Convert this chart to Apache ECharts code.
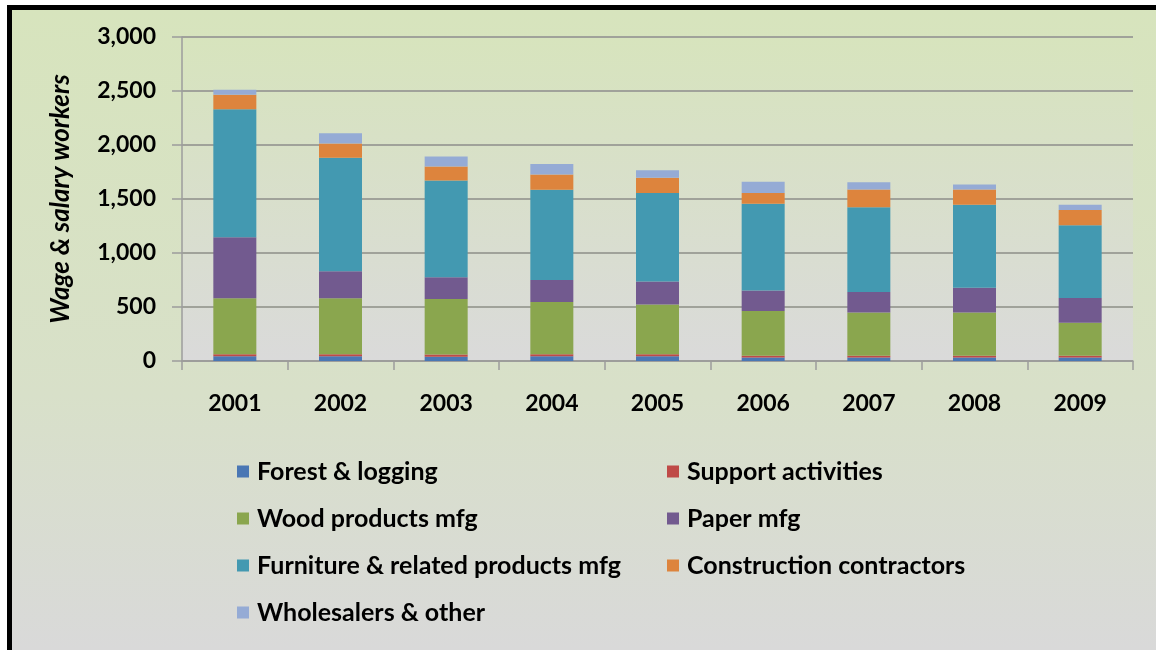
<!DOCTYPE html>
<html>
<head>
<meta charset="utf-8">
<script src="https://cdn.jsdelivr.net/npm/echarts@6/dist/echarts.min.js"></script>
<style>
  html, body { margin: 0; padding: 0; background: #fff; }
  #main {
    position: absolute; left: 7px; top: 5px;
    width: 1149px; height: 645px;
    box-sizing: border-box;
    border-left: 5px solid #000; border-top: 5px solid #000;
  }
</style>
</head>
<body>
<div id="main"></div>
<script>
const years = ['2001', '2002', '2003', '2004', '2005', '2006', '2007', '2008', '2009'];

const forestLogging = [45, 45, 40, 45, 45, 33, 33, 33, 33];
const supportActivities = [18, 18, 20, 18, 18, 16, 16, 16, 16];
const woodProducts = [518, 518, 514, 484, 460, 414, 401, 401, 306];
const paperMfg = [564, 251, 202, 202, 212, 190, 188, 228, 228];
const furnitureMfg = [1187, 1051, 895, 836, 821, 803, 785, 769, 673];
const construction = [133, 130, 130, 143, 140, 99, 166, 142, 142];
const wholesalers = [46, 96, 93, 96, 70, 104, 67, 46, 49];

const seriesNames = [
  'Forest & logging', 'Support activities', 'Wood products mfg', 'Paper mfg',
  'Furniture & related products mfg', 'Construction contractors', 'Wholesalers & other'
];
const seriesData = [forestLogging, supportActivities, woodProducts, paperMfg,
  furnitureMfg, construction, wholesalers];
const colors = ['#4a77b4', '#bf4a47', '#8aa64e', '#725a8f', '#4399b1', '#dd843d', '#95abd5'];

const chart = echarts.init(document.getElementById('main'));

const font = 'Lato, "Open Sans", sans-serif';

const legendCommon = {
  orient: 'vertical',
  top: 449,
  padding: 0,
  itemWidth: 12,
  itemHeight: 12,
  itemGap: 22,
  icon: 'rect',
  textStyle: { fontFamily: font, fontSize: 25, fontWeight: 'bold', color: '#000', lineHeight: 25, padding: [0, 0, 0, 3] }
};

const option = {
  backgroundColor: new echarts.graphic.LinearGradient(0, 0, 0, 1, [
    { offset: 0, color: '#d7e4bd' },
    { offset: 0.6, color: '#d8e0c9' },
    { offset: 1, color: '#d9d9d9' }
  ]),
  color: colors,
  animation: false,
  legend: [
    Object.assign({}, legendCommon, {
      left: 225,
      data: [seriesNames[0], seriesNames[2], seriesNames[4], seriesNames[6]]
    }),
    Object.assign({}, legendCommon, {
      left: 655,
      data: [seriesNames[1], seriesNames[3], seriesNames[5]]
    })
  ],
  grid: {
    left: 170,
    top: 27,
    right: 23,
    height: 324,
    show: true,
    borderWidth: 0,
    backgroundColor: new echarts.graphic.LinearGradient(0, 0, 0, 1, [
      { offset: 0, color: '#d7e4bd' },
      { offset: 1, color: '#dadada' }
    ])
  },
  xAxis: {
    type: 'category',
    data: years,
    axisLine: { lineStyle: { color: '#9c9c9c', width: 1.5 } },
    axisTick: { show: true, interval: 0, length: 9, lineStyle: { color: '#9c9c9c', width: 1.5 } },
    axisLabel: { margin: 31, fontFamily: font, fontSize: 23, fontWeight: 'bold', color: '#000' }
  },
  yAxis: {
    type: 'value',
    min: 0,
    max: 3000,
    interval: 500,
    name: 'Wage & salary workers',
    nameLocation: 'middle',
    nameRotate: 90,
    nameGap: 108,
    nameTextStyle: { fontFamily: font, fontSize: 26, fontStyle: 'italic', fontWeight: 'bold', color: '#000' },
    axisLine: { show: true, lineStyle: { color: '#9c9c9c', width: 1.5 } },
    axisTick: { show: true, length: 10, lineStyle: { color: '#9c9c9c', width: 1.5 } },
    axisLabel: { margin: 26, fontFamily: font, fontSize: 23, fontWeight: 'bold', color: '#000' },
    splitLine: { lineStyle: { color: '#a0a29a', width: 2 } }
  },
  series: seriesNames.map((name, i) => ({
    name: name,
    type: 'bar',
    stack: 'total',
    barWidth: 43,
    data: seriesData[i],
    itemStyle: { color: colors[i] }
  }))
};

chart.setOption(option);
</script>
</body>
</html>
